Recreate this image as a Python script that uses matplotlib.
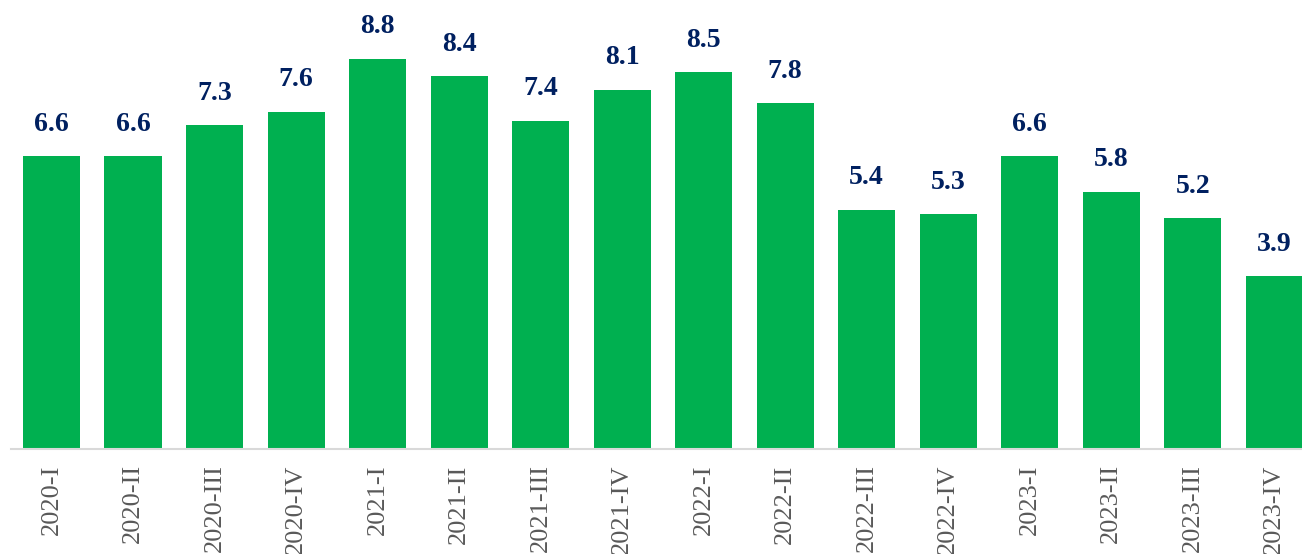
import matplotlib
matplotlib.use("Agg")
import matplotlib.pyplot as plt

quarters = ["2020-I", "2020-II", "2020-III", "2020-IV",
            "2021-I", "2021-II", "2021-III", "2021-IV",
            "2022-I", "2022-II", "2022-III", "2022-IV",
            "2023-I", "2023-II", "2023-III", "2023-IV"]
values = [6.6, 6.6, 7.3, 7.6, 8.8, 8.4, 7.4, 8.1, 8.5, 7.8, 5.4, 5.3, 6.6, 5.8, 5.2, 3.9]

plt.rcParams['font.family'] = ['Liberation Serif', 'DejaVu Serif']

W, H = 1302, 554
fig = plt.figure(figsize=(W / 100, H / 100), dpi=100)
# axes spans past the right edge, as the reference is cropped there
left = 10.75 / W
right = 1315.0 / W
bottom = (H - 449) / H
ax = fig.add_axes([left, bottom, right - left, 449 / H])

x = list(range(len(values)))
ax.bar(x, values, width=0.70, color="#00B050", zorder=2)
for xi, v in zip(x, values):
    ax.annotate(f"{v:.1f}", (xi, v), xytext=(0, 14), textcoords="offset points",
                ha="center", va="bottom", fontsize=20, fontweight="bold",
                color="#002060")

ax.set_xlim(-0.5, len(values) - 0.5)
ax.set_ylim(0, 449 / 44.35)
ax.set_xticks(x)
ax.set_xticklabels(quarters, rotation=90, fontsize=19, color="#595959")
ax.tick_params(axis="x", length=0, pad=11)
ax.set_yticks([])
for s in ["top", "right", "left"]:
    ax.spines[s].set_visible(False)
ax.spines["bottom"].set_color("#D9D9D9")
ax.spines["bottom"].set_linewidth(1.5)

fig.savefig("out.png", dpi=100)
